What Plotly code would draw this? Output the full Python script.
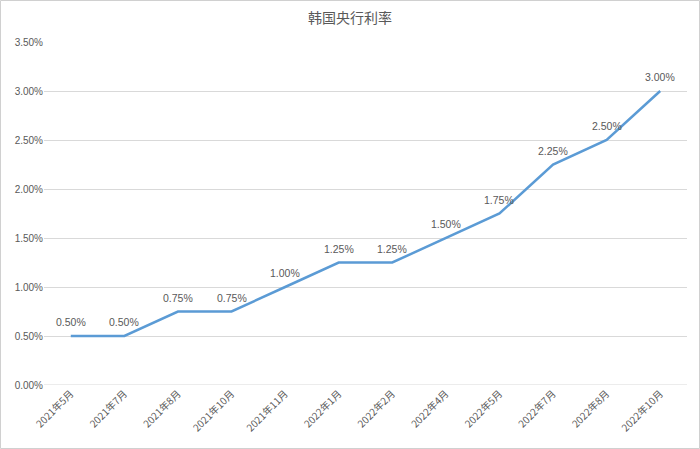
import plotly.graph_objects as go

categories = ["2021年5月", "2021年7月", "2021年8月", "2021年10月", "2021年11月", "2022年1月",
              "2022年2月", "2022年4月", "2022年5月", "2022年7月", "2022年8月", "2022年10月"]
rates = [0.005, 0.005, 0.0075, 0.0075, 0.01, 0.0125, 0.0125, 0.015, 0.0175, 0.0225, 0.025, 0.03]
y_ticks = [0, 0.005, 0.01, 0.015, 0.02, 0.025, 0.03, 0.035]
y_tick_labels = ["0.00%", "0.50%", "1.00%", "1.50%", "2.00%", "2.50%", "3.00%", "3.50%"]
point_labels = [f"{v*100:.2f}%" for v in rates]

W, H = 700, 449
ml, mr, mt, mb = 44, 13, 42, 64
pw, ph = W - ml - mr, H - mt - mb
label_font = dict(size=10.5, color="#595959", family="Liberation Sans, Arial, sans-serif")

xs = list(range(len(categories)))
fig = go.Figure()
fig.add_trace(go.Scatter(
    x=xs, y=rates, mode="lines",
    line=dict(color="#5B9BD5", width=2.5),
    hoverinfo="skip", showlegend=False,
))

annotations = [dict(x=x, y=y, xref="x", yref="y", text=t, showarrow=False,
                    yshift=14, font=label_font)
               for x, y, t in zip(xs, rates, point_labels)]

fig.update_layout(
    width=W, height=H,
    margin=dict(l=ml, r=mr, t=mt, b=mb),
    paper_bgcolor="white", plot_bgcolor="white",
    title=dict(text="韩国央行利率", x=0.5, xanchor="center", y=1 - 18 / H, yanchor="middle",
               font=dict(size=14, color="#595959", family="Noto Sans CJK SC, sans-serif")),
    xaxis=dict(
        tickmode="array", tickvals=xs, ticktext=categories,
        range=[-0.5, len(categories) - 0.5], tickangle=-45,
        showgrid=False, zeroline=False, showline=False, ticks="", automargin=False,
        tickfont=dict(size=10, color="#595959", family="Noto Sans CJK SC, sans-serif"),
    ),
    yaxis=dict(
        tickmode="array", tickvals=y_ticks, ticktext=y_tick_labels,
        range=[0, 0.035], showgrid=True, gridcolor="#D9D9D9", gridwidth=1,
        zeroline=False, showline=False, ticks="", automargin=False,
        tickfont=dict(size=10, color="#595959", family="Liberation Sans, Arial, sans-serif"),
    ),
    annotations=annotations,
    shapes=[dict(type="line", xref="paper", yref="y", x0=0, x1=1, y0=0, y1=0,
                 line=dict(color="#D9D9D9", width=1), layer="below"),
            dict(type="rect", xref="paper", yref="paper",
                 x0=-(ml - 0.5) / pw, x1=1 + (mr - 0.5) / pw,
                 y0=-(mb - 0.5) / ph, y1=1 + (mt - 0.5) / ph,
                 line=dict(color="#D0D0D0", width=1))],
)

fig.write_html("out.html", config={"displayModeBar": False})
with open("out.html", encoding="utf-8") as f:
    html = f.read()
html = html.replace("<head>", "<head><style>html,body{margin:0;padding:0;overflow:hidden;}</style>", 1)
with open("out.html", "w", encoding="utf-8") as f:
    f.write(html)
